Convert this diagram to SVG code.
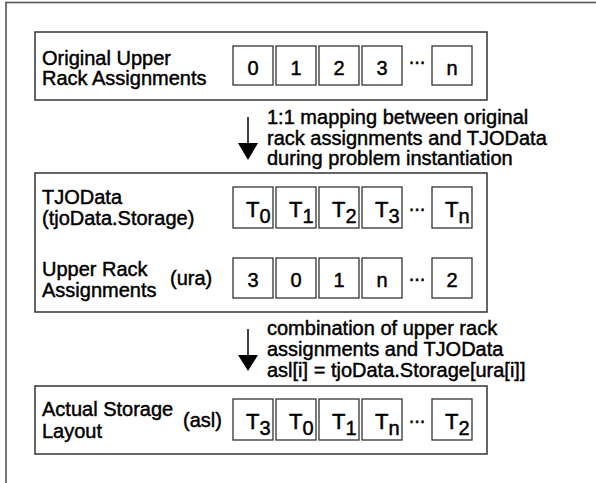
<svg xmlns="http://www.w3.org/2000/svg" width="596" height="483" viewBox="0 0 596 483">
<style>
text{font-family:"Liberation Sans",Arial,sans-serif;font-size:20px;fill:#000;stroke:#000;stroke-width:0.45}
.t{font-size:22px}
.s{font-size:20px}
.box{fill:#fff;stroke:#333;stroke-width:1.5}
.cell{fill:#fff;stroke:#333;stroke-width:1.3}
.c{text-anchor:middle}
.frame{fill:none;stroke:#555;stroke-width:1.6}
.arr{stroke:#000;stroke-width:1.5}
</style>
<rect class="frame" x="6" y="2.5" width="700" height="600"/>
<g id="box-original">
<rect class="box" x="35" y="32" width="452" height="68"/>
<text x="42" y="65">Original Upper</text>
<text x="42" y="85">Rack Assignments</text>
<rect class="cell" x="233" y="46" width="40" height="39"/>
<rect class="cell" x="276" y="46" width="40" height="39"/>
<rect class="cell" x="319" y="46" width="40" height="39"/>
<rect class="cell" x="362" y="46" width="40" height="39"/>
<rect class="cell" x="432" y="46" width="40" height="39"/>
<text class="c" x="253" y="75">0</text>
<text class="c" x="296" y="75">1</text>
<text class="c" x="339" y="75">2</text>
<text class="c" x="382" y="75">3</text>
<text class="c" x="417" y="64">...</text>
<text class="c" x="452" y="75">n</text>
</g>
<g id="box-tjodata">
<rect class="box" x="35" y="173" width="452" height="139"/>
<text x="42" y="204">TJOData</text>
<text x="42" y="225">(tjoData.Storage)</text>
<rect class="cell" x="233" y="187" width="40" height="41"/>
<rect class="cell" x="276" y="187" width="40" height="41"/>
<rect class="cell" x="319" y="187" width="40" height="41"/>
<rect class="cell" x="362" y="187" width="40" height="41"/>
<rect class="cell" x="432" y="187" width="40" height="41"/>
<text class="t" x="246" y="217">T<tspan class="s" dy="6">0</tspan></text>
<text class="t" x="289" y="217">T<tspan class="s" dy="6">1</tspan></text>
<text class="t" x="332" y="217">T<tspan class="s" dy="6">2</tspan></text>
<text class="t" x="375" y="217">T<tspan class="s" dy="6">3</tspan></text>
<text class="c" x="417" y="211">...</text>
<text class="t" x="445" y="217">T<tspan class="s" dy="6">n</tspan></text>
<text x="42" y="276">Upper Rack</text>
<text x="42" y="297">Assignments</text>
<text x="170" y="285">(ura)</text>
<rect class="cell" x="233" y="258" width="40" height="40"/>
<rect class="cell" x="276" y="258" width="40" height="40"/>
<rect class="cell" x="319" y="258" width="40" height="40"/>
<rect class="cell" x="362" y="258" width="40" height="40"/>
<rect class="cell" x="432" y="258" width="40" height="40"/>
<text class="c" x="253" y="287">3</text>
<text class="c" x="296" y="287">0</text>
<text class="c" x="339" y="287">1</text>
<text class="c" x="382" y="287">n</text>
<text class="c" x="417" y="281">...</text>
<text class="c" x="452" y="287">2</text>
</g>
<g id="box-asl">
<rect class="box" x="35" y="386" width="452" height="68"/>
<text x="42" y="416">Actual Storage</text>
<text x="42" y="438">Layout</text>
<text x="183" y="427">(asl)</text>
<rect class="cell" x="233" y="399" width="40" height="41"/>
<rect class="cell" x="276" y="399" width="40" height="41"/>
<rect class="cell" x="319" y="399" width="40" height="41"/>
<rect class="cell" x="362" y="399" width="40" height="41"/>
<rect class="cell" x="432" y="399" width="40" height="41"/>
<text class="t" x="246" y="429">T<tspan class="s" dy="6">3</tspan></text>
<text class="t" x="289" y="429">T<tspan class="s" dy="6">0</tspan></text>
<text class="t" x="332" y="429">T<tspan class="s" dy="6">1</tspan></text>
<text class="t" x="375" y="429">T<tspan class="s" dy="6">n</tspan></text>
<text class="c" x="417" y="423">...</text>
<text class="t" x="445" y="429">T<tspan class="s" dy="6">2</tspan></text>
</g>
<g id="connectors">
<line class="arr" x1="248" y1="117" x2="248" y2="144"/>
<polygon points="238,143 258,143 248,160" fill="#000"/>
<line class="arr" x1="248" y1="329" x2="248" y2="356"/>
<polygon points="238,355 258,355 248,371" fill="#000"/>
<text x="267" y="123.5">1:1 mapping between original</text>
<text x="267" y="144.5">rack assignments and TJOData</text>
<text x="267" y="165">during problem instantiation</text>
<text x="267" y="335">combination of upper rack</text>
<text x="267" y="356">assignments and TJOData</text>
<text x="267" y="377">asl[i] = tjoData.Storage[ura[i]]</text>
</g>
</svg>
